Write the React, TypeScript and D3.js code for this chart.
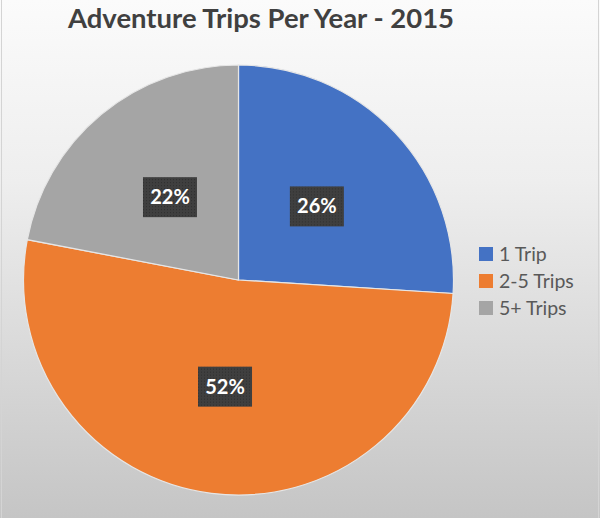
import React from "react";
import * as d3 from "d3";

const title = "Adventure Trips Per Year - 2015";
const categories = ["1 Trip", "2-5 Trips", "5+ Trips"];
const values = [26, 52, 22];
const colors = ["#4472C4", "#ED7D31", "#A5A5A5"];

const W = 600;
const H = 518;

export default function App() {
  const cx = 238.5;
  const cy = 280;
  const R = 215;
  const total = d3.sum(values);
  const pie = d3.pie<number>().sort(null).value((d) => d)(values);
  const arc = d3.arc<d3.PieArcDatum<number>>().innerRadius(0).outerRadius(R);

  return (
    <svg
      width={W}
      height={H}
      style={{ position: "absolute", left: 0, top: 0 }}
      fontFamily="Lato, 'Open Sans', sans-serif"
    >
      <defs>
        <linearGradient id="bg" x1="0" y1="0" x2="0" y2="1">
          <stop offset="0%" stopColor="#fbfbfb" />
          <stop offset="35%" stopColor="#eeeeee" />
          <stop offset="100%" stopColor="#c5c5c5" />
        </linearGradient>
        <pattern id="dots" width="3" height="3" patternUnits="userSpaceOnUse">
          <rect width="3" height="3" fill="#3f3f3f" />
          <rect width="1" height="1" fill="#2e2e2e" />
        </pattern>
      </defs>
      <rect x={0} y={0} width={W} height={H} fill="url(#bg)" />
      <rect x={1.5} y={-2} width={W - 3} height={H + 4} fill="none" stroke="#d4d4d4" strokeWidth={1} />
      <text
        x={261}
        y={28}
        textAnchor="middle"
        fontSize={27.5}
        fontWeight={700}
        fill="#404040"
        textLength={386}
        lengthAdjust="spacingAndGlyphs"
      >
        {title}
      </text>
      <g transform={`translate(${cx},${cy})`}>
        {pie.map((d, i) => (
          <path key={i} d={arc(d) || ""} fill={colors[i]} stroke="#e6e6e6" strokeWidth={1.2} />
        ))}
        {pie.map((d, i) => {
          const [x, y] = arc.centroid(d);
          const pct = Math.round((d.value / total) * 100) + "%";
          return (
            <g key={"l" + i} transform={`translate(${x},${y})`}>
              <rect x={-27} y={-20} width={54} height={40} fill="url(#dots)" />
              <text
                x={0}
                y={7}
                textAnchor="middle"
                fontSize={20}
                fontWeight={700}
                fill="#ffffff"
              >
                {pct}
              </text>
            </g>
          );
        })}
      </g>
      <g transform="translate(479,247)">
        {categories.map((c, i) => (
          <g key={c} transform={`translate(0,${i * 27})`}>
            <rect x={0} y={0} width={14} height={14} fill={colors[i]} />
            <text x={20} y={14} fontSize={19.5} fill="#595959">
              {c}
            </text>
          </g>
        ))}
      </g>
    </svg>
  );
}
